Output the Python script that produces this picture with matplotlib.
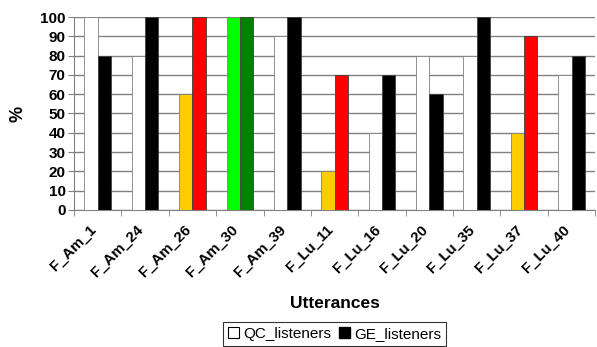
import matplotlib
matplotlib.use("Agg")
import matplotlib.pyplot as plt
import matplotlib.transforms as mtransforms
import numpy as np
from matplotlib.patches import Patch

categories = ["F_Am_1", "F_Am_24", "F_Am_26", "F_Am_30", "F_Am_39", "F_Lu_11",
              "F_Lu_16", "F_Lu_20", "F_Lu_35", "F_Lu_37", "F_Lu_40"]
qc_values = [100, 80, 60, 100, 90, 20, 40, 80, 80, 40, 70]
ge_values = [80, 100, 100, 100, 100, 70, 70, 60, 100, 90, 80]
qc_colors = ["white", "white", "#FFCC00", "#00FF00", "white", "#FFCC00",
             "white", "white", "white", "#FFCC00", "white"]
ge_colors = ["black", "black", "#FF0000", "#008000", "black", "#FF0000",
             "black", "black", "black", "#FF0000", "black"]
yticks = list(range(0, 101, 10))

plt.rcParams['font.family'] = ['Liberation Sans', 'DejaVu Sans']

fig = plt.figure(figsize=(5.97, 3.47), dpi=100)
ax = fig.add_axes([0.124, 0.395, 0.873, 0.556])

x = np.arange(len(categories))
w = 0.28
ax.bar(x - w / 2, qc_values, w, color=qc_colors, edgecolor="#808080", linewidth=0.6, zorder=3)
ax.bar(x + w / 2, ge_values, w, color=ge_colors, edgecolor="#404040", linewidth=0.6, zorder=3)

ax.set_xlim(-0.5, len(categories) - 0.5)
ax.set_ylim(0, 100)
ax.set_yticks(yticks)
ax.set_yticklabels([str(v) for v in yticks], fontsize=11, fontweight="bold")
ax.yaxis.grid(True, color="#808080", linewidth=1.0, zorder=0)
ax.set_axisbelow(True)

ax.set_xticks(x)
ax.set_xticklabels(categories, rotation=45, ha="right", rotation_mode="anchor",
                   fontsize=10.8, fontweight="bold")
ax.tick_params(axis="x", length=0, pad=9)
offset = mtransforms.ScaledTranslation(-9 / 100, 0, fig.dpi_scale_trans)
for lbl in ax.get_xticklabels():
    lbl.set_transform(lbl.get_transform() + offset)
ax.set_xticks(np.arange(-0.5, len(categories), 1.0), minor=True)
ax.tick_params(axis="x", which="minor", length=4, color="#808080", direction="out")
ax.tick_params(axis="y", length=4, color="#808080", pad=2)

for s in ["top", "right"]:
    ax.spines[s].set_visible(False)
ax.spines["left"].set_color("#808080")
ax.spines["bottom"].set_color("#808080")

ax.set_ylabel("%", fontsize=13, fontweight="bold", labelpad=10)
ax.set_xlabel("Utterances", fontsize=12.5, fontweight="bold", labelpad=12)

handles = [Patch(facecolor="white", edgecolor="black", linewidth=0.8, label="QC_listeners"),
           Patch(facecolor="black", edgecolor="black", label="GE_listeners")]
leg = fig.legend(handles=handles, loc="upper center", bbox_to_anchor=(0.56, 0.093),
                 ncol=2, fontsize=11, frameon=True, fancybox=False, handlelength=0.75,
                 handleheight=0.75, handletextpad=0.25, columnspacing=0.5, borderpad=0.3)
leg.get_frame().set_edgecolor("black")
leg.get_frame().set_linewidth(0.8)

fig.savefig("out.png", dpi=100)
